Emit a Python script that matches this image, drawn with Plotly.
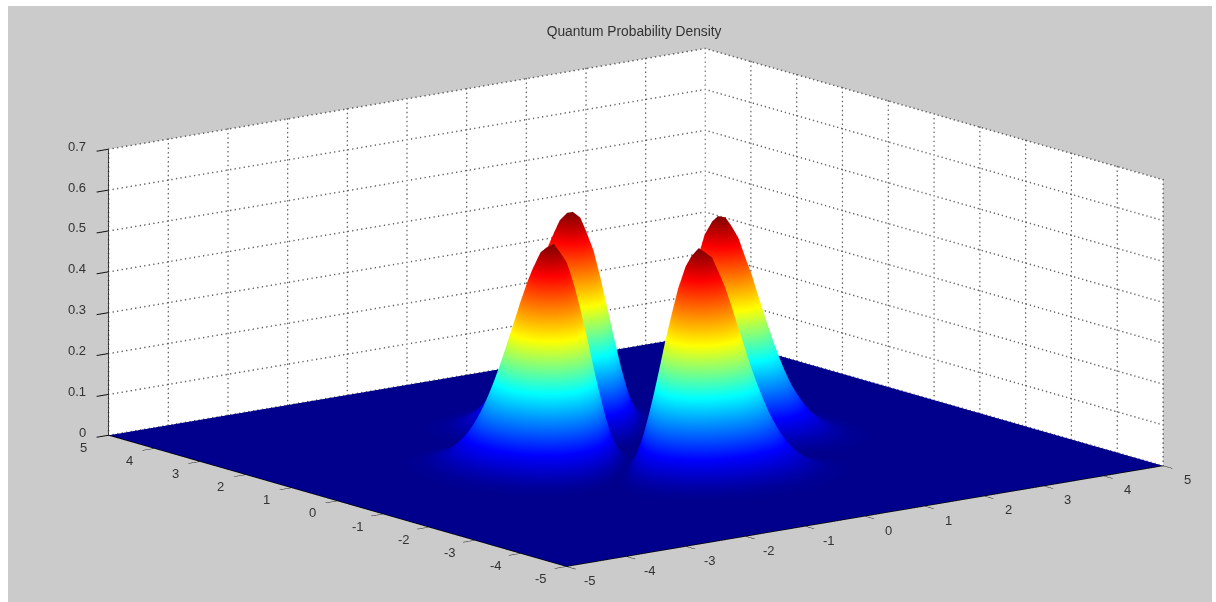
import numpy as np
import plotly.graph_objects as go

TITLE = "Quantum Probability Density"
X_TICKS = [-5, -4, -3, -2, -1, 0, 1, 2, 3, 4, 5]
Y_TICKS = [-5, -4, -3, -2, -1, 0, 1, 2, 3, 4, 5]
Z_TICKS = [0, 0.1, 0.2, 0.3, 0.4, 0.5, 0.6, 0.7]
Z_TICK_LABELS = ["0", "0.1", "0.2", "0.3", "0.4", "0.5", "0.6", "0.7"]

# Quadrant of the density: |x| and |y| on the grid below.
HALF_AXIS = [0, .125, .25, .375, .5, .625, .75, .875, 1, 1.125, 1.25, 1.375, 1.5, 1.625, 1.75,
             1.875, 2, 2.125, 2.25, 2.5, 2.75, 3, 3.25, 3.5]
R00 = [0, .0002, .0037, .0172, .0487, .1032, .1803, .2726, .3679, .4517, .5117, .5397, .5336, .4972, .4387, .3671, .2931, .2222, .1622, .0754, .0297, .0100, .0029, .0007]
R01 = [.0002, 0, .0020, .0134, .0421, .0937, .1678, .2575, .3510, .4338, .4938, .5226, .5180, .4837, .4278, .3582, .2861, .2173, .1587, .0739, .0292, .0098, .0028, .0007]
R02 = [.0037, .0020, 0, .0050, .0257, .0684, .1338, .2160, .3038, .3835, .4430, .4741, .4738, .4452, .3954, .3326, .2668, .2031, .1487, .0694, .0275, .0092, .0027, .0007]
R03 = [.0172, .0134, .0050, 0, .0081, .0367, .0881, .1578, .2361, .3101, .3682, .4018, .4075, .3872, .3472, .2939, .2368, .1813, .1332, .0626, .0249, .0084, .0025, .0006]
R04 = [.0487, .0421, .0257, .0081, 0, .0104, .0433, .0963, .1612, .2265, .2812, .3165, .3283, .3174, .2881, .2466, .2006, .1545, .1142, .0541, .0217, .0073, .0022, .0005]
R05 = [.1032, .0937, .0684, .0367, .0104, 0, .0114, .0442, .0924, .1461, .1948, .2299, .2465, .2442, .2260, .1962, .1613, .1255, .0935, .0448, .0181, .0062, .0018, .0005]
R06 = [.1803, .1678, .1338, .0881, .0433, .0114, 0, .0109, .0401, .0794, .1194, .1518, .1710, .1755, .1666, .1476, .1234, .0971, .0730, .0356, .0145, .0050, .0015, .0004]
R07 = [.2726, .2575, .2160, .1578, .0963, .0442, .0109, 0, .0094, .0328, .0619, .0889, .1080, .1166, .1148, .1044, .0890, .0713, .0543, .0270, .0112, .0039, .0012, .0003]
R08 = [.3679, .3510, .3038, .2361, .1612, .0924, .0401, .0094, 0, .0073, .0244, .0441, .0606, .0706, .0732, .0691, .0607, .0496, .0384, .0196, .0082, .0029, .0009, .0002]
R09 = [.4517, .4338, .3835, .3101, .2265, .1461, .0794, .0328, .0073, 0, .0052, .0166, .0288, .0380, .0426, .0424, .0386, .0325, .0257, .0135, .0058, .0021, .0006, .0002]
R10 = [.5117, .4938, .4430, .3682, .2812, .1948, .1194, .0619, .0244, .0052, 0, .0034, .0104, .0174, .0221, .0237, .0228, .0199, .0163, .0089, .0039, .0014, .0004, .0001]
R11 = [.5397, .5226, .4741, .4018, .3165, .2299, .1518, .0889, .0441, .0166, .0034, 0, .0021, .0061, .0097, .0118, .0123, .0113, .0096, .0055, .0025, .0009, .0003, .0001]
R12 = [.5336, .5180, .4738, .4075, .3283, .2465, .1710, .1080, .0606, .0288, .0104, .0021, 0, .0011, .0033, .0050, .0059, .0059, .0053, .0033, .0015, .0006, .0002, .0001]
R13 = [.4972, .4837, .4452, .3872, .3174, .2442, .1755, .1166, .0706, .0380, .0174, .0061, .0011, 0, .0006, .0016, .0024, .0027, .0026, .0018, .0009, .0004, .0001, 0]
R14 = [.4387, .4278, .3954, .3472, .2881, .2260, .1666, .1148, .0732, .0426, .0221, .0097, .0033, .0006, 0, .0003, .0008, .0011, .0012, .0009, .0005, .0002, .0001, 0]
R15 = [.3671, .3582, .3326, .2939, .2466, .1962, .1476, .1044, .0691, .0424, .0237, .0118, .0050, .0016, .0003, 0, .0001, .0003, .0004, .0004, .0003, .0001, 0, 0]
R16 = [.2931, .2861, .2668, .2368, .2006, .1613, .1234, .0890, .0607, .0386, .0228, .0123, .0059, .0024, .0008, .0001, 0, .0001, .0001, .0002, .0001, 0, 0, 0]
R17 = [.2222, .2173, .2031, .1813, .1545, .1255, .0971, .0713, .0496, .0325, .0199, .0113, .0059, .0027, .0011, .0003, .0001, 0, 0, .0001, .0001, 0, 0, 0]
R18 = [.1622, .1587, .1487, .1332, .1142, .0935, .0730, .0543, .0384, .0257, .0163, .0096, .0053, .0026, .0012, .0004, .0001, 0, 0, 0, 0, 0, 0, 0]
R19 = [.0754, .0739, .0694, .0626, .0541, .0448, .0356, .0270, .0196, .0135, .0089, .0055, .0033, .0018, .0009, .0004, .0002, .0001, 0, 0, 0, 0, 0, 0]
R20 = [.0297, .0292, .0275, .0249, .0217, .0181, .0145, .0112, .0082, .0058, .0039, .0025, .0015, .0009, .0005, .0003, .0001, .0001, 0, 0, 0, 0, 0, 0]
R21 = [.0100, .0098, .0092, .0084, .0073, .0062, .0050, .0039, .0029, .0021, .0014, .0009, .0006, .0004, .0002, .0001, 0, 0, 0, 0, 0, 0, 0, 0]
R22 = [.0029, .0028, .0027, .0025, .0022, .0018, .0015, .0012, .0009, .0006, .0004, .0003, .0002, .0001, .0001, 0, 0, 0, 0, 0, 0, 0, 0, 0]
R23 = [.0007, .0007, .0007, .0006, .0005, .0005, .0004, .0003, .0002, .0002, .0001, .0001, .0001, 0, 0, 0, 0, 0, 0, 0, 0, 0, 0, 0]
QUADRANT = [R00, R01, R02, R03, R04, R05, R06, R07, R08, R09, R10, R11, R12, R13, R14, R15, R16,
            R17, R18, R19, R20, R21, R22, R23]

q = np.array(QUADRANT)
top = np.hstack([q[:, :0:-1], q])
z_full = np.vstack([top[:0:-1], top])
axis_full = [-v for v in HALF_AXIS[:0:-1]] + HALF_AXIS

JET = [[0, "#00008c"], [0.125, "#0000ff"], [0.375, "#00ffff"],
       [0.6, "#ffff00"], [0.875, "#ff0000"], [1, "#800000"]]

fig = go.Figure()
common = dict(colorscale=JET, cmin=0, cmax=0.54, showscale=False, hoverinfo="skip",
              lighting=dict(ambient=1, diffuse=0, specular=0, roughness=1, fresnel=0))
fig.add_trace(go.Surface(x=[X_TICKS[0], X_TICKS[-1]], y=[Y_TICKS[0], Y_TICKS[-1]],
                         z=[[0, 0], [0, 0]], **common))
fig.add_trace(go.Surface(x=axis_full, y=axis_full, z=z_full, **common))

# Dotted grid on the two back walls, drawn as rows of tiny markers
xl, xh, yl, yh = X_TICKS[0], X_TICKS[-1], Y_TICKS[0], Y_TICKS[-1]
zl, zh = Z_TICKS[0], Z_TICKS[-1]
gx, gy, gz = [], [], []
def dots(a, b, n):
    for t in np.linspace(0, 1, n):
        gx.append(a[0] + (b[0] - a[0]) * t)
        gy.append(a[1] + (b[1] - a[1]) * t)
        gz.append(a[2] + (b[2] - a[2]) * t)
for v in X_TICKS:
    dots((v, yh, zl), (v, yh, zh), 64)
for v in Y_TICKS:
    dots((xh, v, zl), (xh, v, zh), 64)
for v in Z_TICKS:
    dots((xl, yh, v), (xh, yh, v), 133)
    dots((xh, yl, v), (xh, yh, v), 115)
fig.add_trace(go.Scatter3d(x=gx, y=gy, z=gz, mode="markers", hoverinfo="skip", showlegend=False,
                           marker=dict(color="#666666", size=1, line=dict(width=0))))

def axis(ticks, labels=None, rng=None):
    return dict(range=rng, tickmode="array", tickvals=ticks,
                ticktext=labels or [str(t) for t in ticks], title=dict(text=""),
                showgrid=False, zeroline=False, showspikes=False, tickangle=0,
                showticklabels=False,
                showbackground=True, backgroundcolor="#ffffff",
                showline=True, linecolor="#000000", linewidth=1.5,
                ticks="outside", ticklen=15, tickcolor="#111111", tickwidth=2)

zaxis = axis(Z_TICKS, Z_TICK_LABELS, [0, 0.7])
zaxis["showbackground"] = False

# Tick labels as scene annotations so each sits where the reference has it
label_font = dict(family="Liberation Sans", size=13, color="#333333")
labels = []
for v in X_TICKS:
    labels.append(dict(x=v, y=yl, z=zl, text=str(v), showarrow=False, font=label_font,
                       xanchor="center", yanchor="middle", xshift=24, yshift=-14))
for v in Y_TICKS:
    labels.append(dict(x=xl, y=v, z=zl, text=str(v), showarrow=False, font=label_font,
                       xanchor="center", yanchor="middle", xshift=-25, yshift=-12))
for v, s in zip(Z_TICKS, Z_TICK_LABELS):
    labels.append(dict(x=xl, y=yh, z=v, text=s, showarrow=False, font=label_font,
                       xanchor="right", yanchor="middle", xshift=-21, yshift=3))

R = 8
sx, sy, sz = -0.0688, 0.0528, 0.012
fig.update_layout(
    width=1204, height=596, autosize=False,
    margin=dict(l=0, r=0, t=0, b=0),
    paper_bgcolor="#cbcbcb",
    showlegend=False,
    title=dict(text=TITLE, x=0.52, xanchor="center", y=0.958, yanchor="middle",
               font=dict(family="Liberation Sans", size=13.8, color="#333333")),
    scene=dict(
        domain=dict(x=[0, 1], y=[0, 1]),
        xaxis=axis(X_TICKS, rng=[-5, 5]),
        yaxis=axis(Y_TICKS, rng=[-5, 5]),
        zaxis=zaxis,
        annotations=labels,
        aspectmode="manual",
        aspectratio=dict(x=2.524, y=2.524, z=0.984),
        camera=dict(eye=dict(x=-0.594 * R + sx, y=-0.774 * R + sy, z=0.22 * R + sz),
                    center=dict(x=sx, y=sy, z=sz),
                    up=dict(x=0, y=0, z=1), projection=dict(type="orthographic")),
    ),
)
fig.write_html("out.html", post_script="document.body.style.margin='6px 0 0 8px';")
